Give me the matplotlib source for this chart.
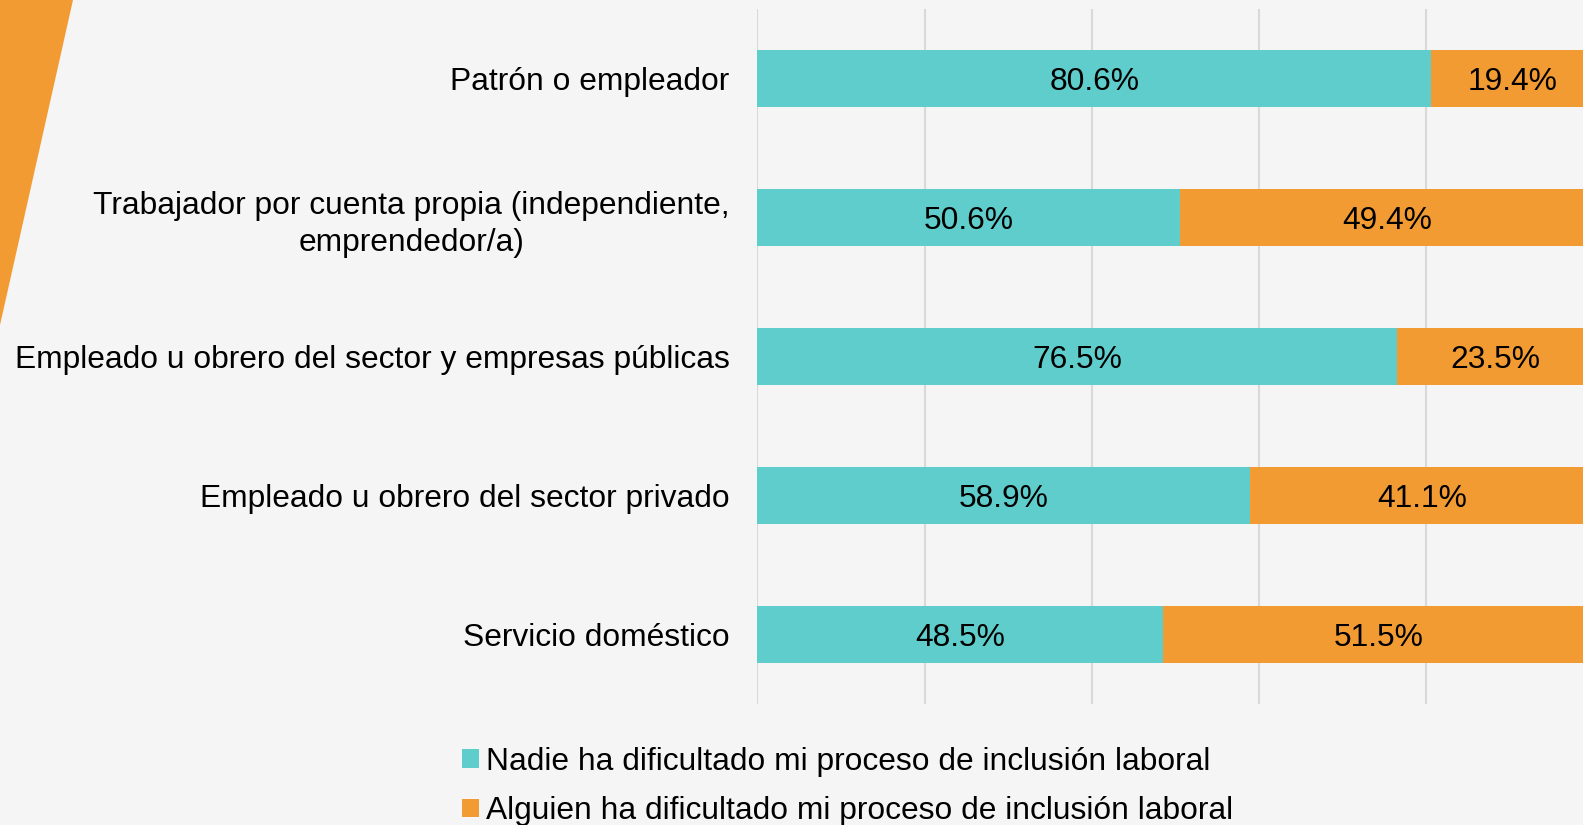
import matplotlib
matplotlib.use("Agg")
import matplotlib.pyplot as plt
from matplotlib.patches import Patch, Polygon
import numpy as np

categories = [
    "Patrón o empleador",
    "Trabajador por cuenta propia (independiente,\nemprendedor/a)",
    "Empleado u obrero del sector y empresas públicas",
    "Empleado u obrero del sector privado",
    "Servicio doméstico",
]
nadie = [80.6, 50.6, 76.5, 58.9, 48.5]
alguien = [19.4, 49.4, 23.5, 41.1, 51.5]
series_names = [
    "Nadie ha dificultado mi proceso de inclusión laboral",
    "Alguien ha dificultado mi proceso de inclusión laboral",
]
xticks = [0, 20, 40, 60, 80, 100]

TEAL = "#5FCDCB"
ORANGE = "#F39B33"
BG = "#F5F5F5"
FS = 22.9

plt.rcParams["font.family"] = ["Liberation Sans", "DejaVu Sans"]

W, H = 1583, 825
fig = plt.figure(figsize=(W / 100, H / 100), dpi=100, facecolor=BG)

# decorative orange wedge at top-left
fig.patches.append(Polygon([[0, 1], [73 / W, 1], [0, 1 - 325 / H]], closed=True,
                           transform=fig.transFigure, facecolor=ORANGE,
                           edgecolor="none", zorder=0))

ax_left, ax_right = 757.2, 1593.7
ax_top, ax_bot = 8.7, 704.0
ax = fig.add_axes([ax_left / W, 1 - ax_bot / H, (ax_right - ax_left) / W, (ax_bot - ax_top) / H])
ax.set_facecolor("none")

y = np.arange(len(categories))
h = 0.41
ax.barh(y, nadie, height=h, color=TEAL, zorder=2, label=series_names[0])
ax.barh(y, alguien, left=nadie, height=h, color=ORANGE, zorder=2, label=series_names[1])

for i in range(len(categories)):
    ax.text(nadie[i] / 2, y[i], f"{nadie[i]:.1f}%", ha="center", va="center_baseline",
            fontsize=FS, color="black", zorder=3)
    ax.text(nadie[i] + alguien[i] / 2, y[i], f"{alguien[i]:.1f}%", ha="center",
            va="center_baseline", fontsize=FS, color="black", zorder=3)

ax.set_xlim(0, 100)
ax.set_ylim(len(categories) - 0.5, -0.5)
ax.set_xticks(xticks)
ax.set_xticklabels([])
ax.tick_params(axis="x", length=0)
ax.grid(axis="x", color="#D9D9D9", linewidth=1.5, zorder=1)
ax.set_axisbelow(True)
for s in ax.spines.values():
    s.set_visible(False)

ax.set_yticks(y)
ax.set_yticklabels(categories, fontsize=FS)
ax.tick_params(axis="y", length=0, pad=20)
for lbl in ax.get_yticklabels():
    lbl.set_multialignment("center")
    lbl.set_linespacing(1.32)

handles = [Patch(facecolor=TEAL, edgecolor="none"), Patch(facecolor=ORANGE, edgecolor="none")]
fig.legend(handles, series_names, loc="upper left",
           bbox_to_anchor=(462 / W, 1 - 747 / H), frameon=False, fontsize=FS,
           handlelength=0.52, handleheight=0.52, handletextpad=0.25,
           labelspacing=0.6, borderpad=0, borderaxespad=0)

fig.savefig("out.png", dpi=100, facecolor=BG)
